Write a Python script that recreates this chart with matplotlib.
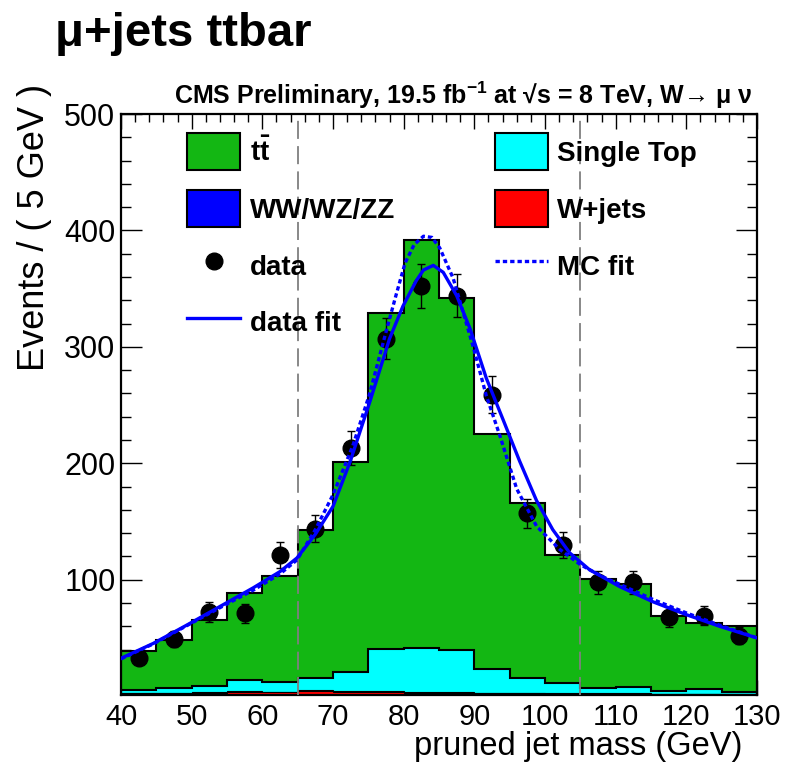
import numpy as np
import matplotlib
matplotlib.use('Agg')
import matplotlib.pyplot as plt
from matplotlib.patches import Patch
from matplotlib.lines import Line2D

plt.rcParams['font.family'] = ['Liberation Sans', 'DejaVu Sans']
plt.rcParams['mathtext.fontset'] = 'custom'
plt.rcParams['mathtext.rm'] = 'Liberation Sans'
plt.rcParams['mathtext.bf'] = 'Liberation Sans:bold'

# binning: 5 GeV bins from 40 to 130
bin_edges = [40, 45, 50, 55, 60, 65, 70, 75, 80, 85, 90, 95, 100, 105, 110, 115, 120, 125, 130]

# MC components (events per bin), stacked bottom to top
wjets = [2.5, 2.5, 3.0, 3.5, 3.5, 4.5, 4.0, 3.5, 3.0, 3.0, 2.5, 2.5, 2.0, 2.0, 2.0, 1.5, 1.5, 1.5]
diboson = [0.4, 0.4, 0.5, 0.6, 0.5, 0.7, 0.7, 0.8, 0.8, 0.7, 0.6, 0.5, 0.5, 0.4, 0.4, 0.4, 0.4, 0.4]
single_top = [2.6, 3.9, 5.0, 9.4, 8.0, 10.3, 15.8, 36.2, 37.7, 35.8, 19.9, 12.5, 8.5, 4.6, 5.1, 2.7, 4.1, 2.1]
ttbar = [33.5, 41.2, 56.5, 75.0, 91.5, 127.5, 180.5, 288.5, 350.5, 302.5, 202.5, 150.5, 110.5, 93.5, 89.0, 64.4, 57.0, 56.0]

# data
data_x = [42.5, 47.5, 52.5, 57.5, 62.5, 67.5, 72.5, 77.5, 82.5, 87.5, 92.5, 97.5, 102.5, 107.5, 112.5, 117.5, 122.5, 127.5]
data_y = [33, 49, 72, 71, 121, 144, 213, 307, 352, 344, 259, 157, 130, 98, 98, 68, 69, 52]
data_err = [5.7, 7.0, 8.5, 8.4, 11.0, 12.0, 14.6, 17.5, 18.8, 18.5, 16.1, 12.5, 11.4, 9.9, 9.9, 8.2, 8.3, 7.2]

# fit curves
datafit_x = [40, 44.6, 49.3, 54.0, 58.7, 62.5, 64.9, 67.5, 70.0, 72.4, 75.2, 78.0, 79.9, 81.8, 82.8, 84.2,
             85.6, 87.5, 89.4, 91.7, 94.1, 96.4, 98.8, 101.1, 103.5, 106.3, 110.6, 115.3, 120.0, 124.7, 130]
datafit_y = [32.5, 45.4, 61, 77, 93, 107, 118.7, 139, 163, 201, 252.6, 307, 335, 357, 366, 370,
             364, 344, 315.5, 273, 237, 202, 168, 143, 123, 108.6, 94, 81, 70, 60, 50]
mcfit_x = [40, 44.6, 49.3, 54.0, 58.7, 62.5, 64.9, 67.5, 70.0, 72.8, 75.1, 77.6, 78.9, 80.2, 81.5, 82.8, 84.0,
           85.1, 87.0, 89.8, 91.7, 93.6, 96.0, 98.8, 102.1, 105.0, 108.0, 110.6, 115.3, 120.0, 124.7, 130]
mcfit_y = [32, 45, 60.5, 76, 91, 105, 117, 143, 173, 215, 258, 315, 344, 372, 388, 395, 394,
           385, 359, 301, 258, 224, 178, 146, 126, 113, 103, 96, 83, 71.5, 61, 50]

green = '#13b713'
cyan = '#00ffff'
blue = '#0000ff'
red = '#ff0000'

fig = plt.figure(figsize=(7.87, 7.65), dpi=100)
ax = fig.add_axes([121 / 787, 1 - 695 / 765, 636 / 787, 581 / 765])

edges = np.array(bin_edges)
layers = np.cumsum([wjets, diboson, single_top, ttbar], axis=0)
for vals, col, lw in zip(layers[::-1], [green, cyan, blue, red], [1.5, 1.5, 0.8, 0.8]):
    ax.stairs(vals, edges, fill=True, facecolor=col, edgecolor='none', zorder=2)
    ax.stairs(vals, edges, fill=False, color='black', lw=lw, zorder=2.5)

for xv in [65, 105]:
    ax.axvline(xv, color='#7f7f7f', lw=1.3, linestyle=(0, (10, 4)), zorder=3)

ax.errorbar(data_x, data_y, yerr=data_err, fmt='o', color='black', ms=12,
            elinewidth=1, capsize=3, capthick=1, zorder=4)
ax.plot(datafit_x, datafit_y, color=blue, lw=2.4, zorder=5)
ax.plot(mcfit_x, mcfit_y, color=blue, lw=2.4, linestyle=(0, (1.3, 0.9)), zorder=5)

ax.set_xlim(40, 130)
ax.set_ylim(1, 500)
ax.set_xticks(np.arange(40, 131, 10))
ax.set_xticks(np.arange(40, 131, 2), minor=True)
ax.set_yticks([100, 200, 300, 400, 500])
ax.set_yticks(np.arange(20, 501, 20), minor=True)
ax.tick_params(which='both', direction='in', top=True, right=True, width=1, color='black')
ax.tick_params(axis='y', which='major', length=15, labelsize=22, pad=4)
ax.tick_params(axis='y', which='minor', length=7.5)
ax.tick_params(axis='x', which='major', length=11, labelsize=21, pad=6)
ax.tick_params(axis='x', which='minor', length=6)
for sp in ax.spines.values():
    sp.set_linewidth(1.6)

fig.text(35 / 787, 1 - 84 / 765, 'Events / ( 5 GeV )', rotation=90, ha='center', va='top', fontsize=26)
fig.text(742 / 787, 1 - 747 / 765, 'pruned jet mass (GeV)', ha='right', va='center', fontsize=23.5)
fig.text(55 / 787, 1 - 34 / 765, 'μ+jets ttbar', ha='left', va='center', fontsize=34, fontweight='bold')
fig.text(752 / 787, 1 - 95 / 765, r'CMS Preliminary, 19.5 fb$^{\mathbf{-1}}$ at √s = 8 TeV, W→ μ ν',
         ha='right', va='center', fontsize=18, fontweight='bold')

left_handles = [Patch(facecolor=green, edgecolor='black', lw=1.5),
                Patch(facecolor=blue, edgecolor='black', lw=1.5),
                Line2D([], [], marker='o', color='black', ms=12, linestyle='none'),
                Line2D([], [], color=blue, lw=2.4)]
left_labels = [r'$\mathbf{t\bar{t}}$', 'WW/WZ/ZZ', 'data', 'data fit']
right_handles = [Patch(facecolor=cyan, edgecolor='black', lw=1.5),
                 Patch(facecolor=red, edgecolor='black', lw=1.5),
                 Line2D([], [], color=blue, lw=2.4, linestyle=(0, (1.3, 0.9)))]
right_labels = ['Single Top', 'W+jets', 'MC fit']

leg_kw = dict(frameon=False, borderpad=0, borderaxespad=0, handlelength=1.9, handleheight=1.68,
              labelspacing=0.71, handletextpad=0.35, prop={'size': 20, 'weight': 'bold'}, loc='upper left')
leg1 = ax.legend(left_handles, left_labels, bbox_to_anchor=(0.104, 0.967), **leg_kw)
ax.add_artist(leg1)
leg2 = ax.legend(right_handles, right_labels, bbox_to_anchor=(0.588, 0.967), **leg_kw)
for leg in (leg1, leg2):
    leg.set_zorder(6)

fig.savefig('out.png', dpi=100)
